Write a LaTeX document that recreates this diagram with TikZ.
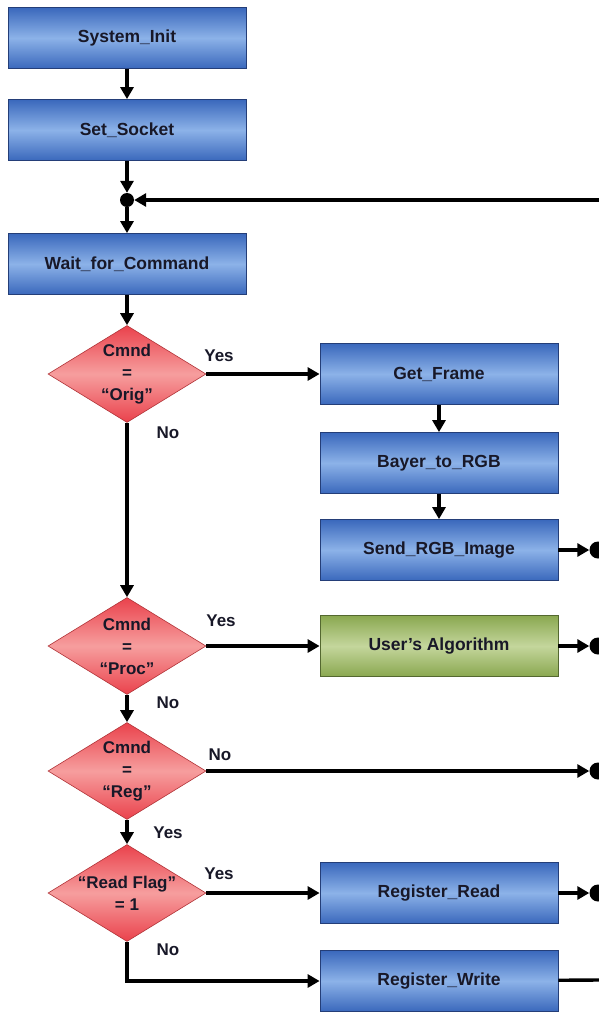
\documentclass[tikz,border=0pt]{standalone}
\usepackage{fontspec}
\setmainfont{Liberation Sans}
\usetikzlibrary{shapes.geometric,arrows.meta,positioning}

\definecolor{boxblue}{RGB}{58,104,188}
\definecolor{boxlight}{RGB}{140,178,232}
\definecolor{boxedge}{RGB}{36,62,120}
\definecolor{algogreen}{RGB}{138,168,80}
\definecolor{algolight}{RGB}{196,214,156}
\definecolor{algoedge}{RGB}{84,104,48}
\definecolor{diared}{RGB}{234,66,76}
\definecolor{dialight}{RGB}{246,158,158}
\definecolor{diaedge}{RGB}{176,52,56}
\definecolor{textdark}{RGB}{24,24,40}

\tikzset{
  procbox/.style={rectangle, draw=boxedge, line width=0.8pt,
    top color=boxblue, bottom color=boxblue, middle color=boxlight,
    minimum width=238pt, minimum height=61pt, inner sep=0pt,
    text=textdark, font=\bfseries\fontsize{17.5}{20}\selectfont},
  algobox/.style={procbox, draw=algoedge,
    top color=algogreen, bottom color=algogreen, middle color=algolight},
  decision/.style={diamond, draw=diaedge, line width=0.6pt,
    top color=diared, bottom color=diared, middle color=dialight,
    minimum width=158pt, minimum height=97pt, inner sep=0pt},
  dtext/.style={align=center, inner sep=0pt,
    text=textdark, font=\bfseries\fontsize{17}{22}\selectfont},
  junction/.style={circle, fill=black, minimum size=14pt, inner sep=0pt},
  lbl/.style={text=textdark, font=\bfseries\fontsize{17}{20}\selectfont},
  flow/.style={line width=3.4pt, -{Triangle[length=12pt,width=13pt]}},
  plain/.style={line width=3.4pt}
}

\begin{document}
\begin{tikzpicture}[x=1pt,y=-1pt]
\useasboundingbox (0,0) rectangle (599,1012);
\clip (0,0) rectangle (599,1012);

% main column
\node[procbox] (init)   at (127,38)  {System\_Init};
\node[procbox] (socket) at (127,130) {Set\_Socket};
\node[junction] (junc)  at (127,200) {};
\node[procbox] (wait)   at (127,264) {Wait\_for\_Command};

% decisions
\node[decision] (orig) at (127,374) {};
\node[decision] (proc) at (127,646) {};
\node[decision] (reg)  at (127,771) {};
\node[decision] (flag) at (127,893) {};
\node[dtext] (origtext) at (orig) {Cmnd\\=\\“Orig”};
\node[dtext] (proctext) at (proc) {Cmnd\\=\\“Proc”};
\node[dtext] (regtext)  at (reg)  {Cmnd\\=\\“Reg”};
\node[dtext] (flagtext) at (flag) {“Read Flag”\\= 1};

% right column
\node[procbox] (getframe) at (439,374) {Get\_Frame};
\node[procbox] (bayer)    at (439,463) {Bayer\_to\_RGB};
\node[procbox] (sendrgb)  at (439,550) {Send\_RGB\_Image};
\node[algobox] (useralgo) at (439,646) {User’s Algorithm};
\node[procbox] (regread)  at (439,893) {Register\_Read};
\node[procbox] (regwrite) at (439,981) {Register\_Write};

% off-page connectors
\node[junction, minimum size=17pt] (outa) at (598,550) {};
\node[junction, minimum size=17pt] (outb) at (598,646) {};
\node[junction, minimum size=17pt] (outc) at (598,771) {};
\node[junction, minimum size=17pt] (outd) at (598,893) {};
\coordinate (back) at (599,200);
\coordinate (wend) at (599,980);

% labels
\node[lbl] (yes1) at (219,356) {Yes};
\node[lbl] (no1)  at (168,433) {No};
\node[lbl] (yes2) at (221,621) {Yes};
\node[lbl] (no2)  at (168,703) {No};
\node[lbl] (no3)  at (220,755) {No};
\node[lbl] (yes3) at (168,833) {Yes};
\node[lbl] (yes4) at (219,874) {Yes};
\node[lbl] (no4)  at (168,950) {No};

% connectors
\draw[flow] (init) -- (socket);
\draw[flow] (socket) -- (junc);
\draw[flow] (back) -- (junc);
\draw[flow] (junc) -- (wait);
\draw[flow] (wait) -- (orig);
\draw[flow] (orig) -- (getframe);
\draw[flow] (getframe) -- (bayer);
\draw[flow] (bayer) -- (sendrgb);
\draw[flow] (sendrgb) -- (outa);
\draw[flow] (orig) -- (proc);
\draw[flow] (proc) -- (useralgo);
\draw[flow] (useralgo) -- (outb);
\draw[flow] (proc) -- (reg);
\draw[flow] (reg) -- (outc);
\draw[flow] (reg) -- (flag);
\draw[flow] (flag) -- (regread);
\draw[flow] (regread) -- (outd);
\draw[flow] (flag.south) |- (regwrite.west);
\draw[plain] (regwrite) -- (wend);

\end{tikzpicture}
\end{document}
